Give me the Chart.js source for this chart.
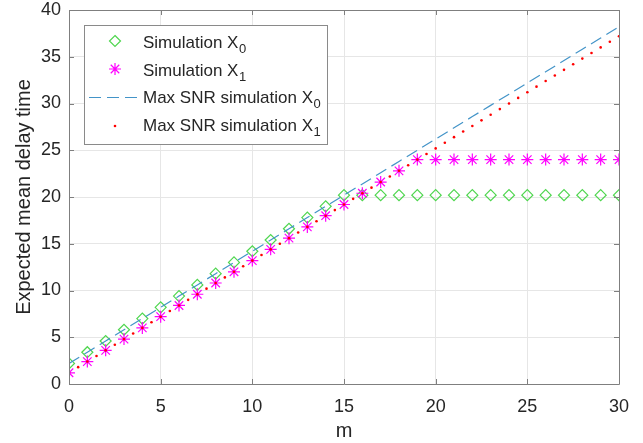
<!DOCTYPE html>
<html>
<head>
<meta charset="utf-8">
<script src="https://cdn.jsdelivr.net/npm/chart.js@4/dist/chart.umd.min.js"></script>
<style>
html,body{margin:0;padding:0;background:#fff;}
#c{display:block;}
</style>
</head>
<body>
<canvas id="c" width="643" height="443"></canvas>
<script>
// ---- data ----
const mValues = [0,1,2,3,4,5,6,7,8,9,10,11,12,13,14,15,16,17,18,19,20,21,22,23,24,25,26,27,28,29,30];
const simX0 = [2.2,3.4,4.6,5.8,7.0,8.2,9.4,10.6,11.8,13.0,14.2,15.4,16.6,17.8,19.0,20.2,20.2,20.2,20.2,20.2,20.2,20.2,20.2,20.2,20.2,20.2,20.2,20.2,20.2,20.2,20.2];
const simX1 = [1.2,2.4,3.6,4.8,6.0,7.2,8.4,9.6,10.8,12.0,13.2,14.4,15.6,16.8,18.0,19.2,20.4,21.6,22.8,24.0,24.0,24.0,24.0,24.0,24.0,24.0,24.0,24.0,24.0,24.0,24.0];
const maxSnrX0 = [2.2,3.4,4.6,5.8,7.0,8.2,9.4,10.6,11.8,13.0,14.2,15.4,16.6,17.8,19.0,20.2,21.4,22.6,23.8,25.0,26.2,27.4,28.6,29.8,31.0,32.2,33.4,34.6,35.8,37.0,38.2];
const mHalfValues = [0,0.5,1,1.5,2,2.5,3,3.5,4,4.5,5,5.5,6,6.5,7,7.5,8,8.5,9,9.5,10,10.5,11,11.5,12,12.5,13,13.5,14,14.5,15,15.5,16,16.5,17,17.5,18,18.5,19,19.5,20,20.5,21,21.5,22,22.5,23,23.5,24,24.5,25,25.5,26,26.5,27,27.5,28,28.5,29,29.5,30];
const maxSnrX1 = [1.2,1.8,2.4,3.0,3.6,4.2,4.8,5.4,6.0,6.6,7.2,7.8,8.4,9.0,9.6,10.2,10.8,11.4,12.0,12.6,13.2,13.8,14.4,15.0,15.6,16.2,16.8,17.4,18.0,18.6,19.2,19.8,20.4,21.0,21.6,22.2,22.8,23.4,24.0,24.6,25.2,25.8,26.4,27.0,27.6,28.2,28.8,29.4,30.0,30.6,31.2,31.8,32.4,33.0,33.6,34.2,34.8,35.4,36.0,36.6,37.2];
const xTitle = "m";
const yTitle = "Expected mean delay time";
const legendLabels = [["Simulation X","0"],["Simulation X","1"],["Max SNR simulation X","0"],["Max SNR simulation X","1"]];

const pts = (xs, ys) => xs.map((x, i) => ({x: x, y: ys[i]}));

const GREEN = '#4fd64f', MAGENTA = '#ff00ff', BLUE = '#4394c8', RED = '#ff0000';
const AXIS = '#7f7f7f', GRID = '#e6e6e6', TXT = '#262626';
const FONT = "'Liberation Sans', Arial, Helvetica, sans-serif";

const boxPlugin = {
  id: 'matlabBox',
  afterDatasetsDraw(chart) {
    const {ctx, chartArea: a, scales} = chart;
    ctx.save();
    ctx.strokeStyle = AXIS;
    ctx.lineWidth = 1;
    ctx.beginPath();
    ctx.rect(Math.round(a.left) + 0.5, Math.round(a.top) + 0.5, Math.round(a.right - a.left), Math.round(a.bottom - a.top));
    ctx.stroke();
    const tl = 5;
    ctx.beginPath();
    scales.x.ticks.forEach(t => {
      const px = Math.round(scales.x.getPixelForValue(t.value)) + 0.5;
      ctx.moveTo(px, a.bottom); ctx.lineTo(px, a.bottom - tl);
      ctx.moveTo(px, a.top); ctx.lineTo(px, a.top + tl);
    });
    scales.y.ticks.forEach(t => {
      const py = Math.round(scales.y.getPixelForValue(t.value)) + 0.5;
      ctx.moveTo(a.left, py); ctx.lineTo(a.left + tl, py);
      ctx.moveTo(a.right, py); ctx.lineTo(a.right - tl, py);
    });
    ctx.stroke();
    ctx.restore();
  },
  afterDraw(chart) {
    const ctx = chart.ctx;
    ctx.save();
    // legend box
    const L = 84, T = 25, R = 327, B = 144;
    ctx.fillStyle = '#ffffff';
    ctx.fillRect(L, T, R - L, B - T);
    ctx.strokeStyle = '#8a8a8a';
    ctx.lineWidth = 1;
    ctx.strokeRect(L + 0.5, T + 0.5, R - L, B - T);
    const baselines = [48, 75.5, 103, 130.5];
    const mx = 115;
    // diamond
    let y = baselines[0] - 7;
    ctx.strokeStyle = GREEN; ctx.lineWidth = 1.2;
    ctx.beginPath();
    ctx.moveTo(mx, y - 5.5); ctx.lineTo(mx + 5.5, y); ctx.lineTo(mx, y + 5.5); ctx.lineTo(mx - 5.5, y); ctx.closePath();
    ctx.stroke();
    // star
    y = baselines[1] - 6.5;
    ctx.strokeStyle = MAGENTA;
    ctx.beginPath();
    const r = 6;
    ctx.moveTo(mx - r, y); ctx.lineTo(mx + r, y);
    ctx.moveTo(mx, y - r); ctx.lineTo(mx, y + r);
    const d = r * Math.SQRT1_2;
    ctx.moveTo(mx - d, y - d); ctx.lineTo(mx + d, y + d);
    ctx.moveTo(mx - d, y + d); ctx.lineTo(mx + d, y - d);
    ctx.stroke();
    // dashed line
    y = baselines[2] - 5.5;
    ctx.strokeStyle = BLUE; ctx.lineWidth = 1.2;
    ctx.setLineDash([12, 6]);
    ctx.beginPath(); ctx.moveTo(89, y); ctx.lineTo(138, y); ctx.stroke();
    ctx.setLineDash([]);
    // dot
    y = baselines[3] - 4.5;
    ctx.fillStyle = RED;
    ctx.beginPath(); ctx.arc(mx, y, 1.3, 0, Math.PI * 2); ctx.fill();
    // texts
    ctx.fillStyle = TXT;
    ctx.textBaseline = 'alphabetic';
    ctx.textAlign = 'left';
    legendLabels.forEach((lab, i) => {
      ctx.font = '17px ' + FONT;
      ctx.fillText(lab[0], 143, baselines[i]);
      const w = ctx.measureText(lab[0]).width;
      ctx.font = '13px ' + FONT;
      ctx.fillText(lab[1], 143 + w + 0.5, baselines[i] + 5);
    });
    ctx.restore();
  }
};

new Chart(document.getElementById('c'), {
  type: 'scatter',
  data: {
    datasets: [
      {
        label: 'Simulation X0',
        data: pts(mValues, simX0),
        pointStyle: 'rectRot',
        pointRadius: 5.5,
        pointBorderColor: GREEN,
        pointBackgroundColor: 'rgba(0,0,0,0)',
        pointBorderWidth: 1.2,
        showLine: false,
        order: 4
      },
      {
        label: 'Simulation X1',
        data: pts(mValues, simX1),
        pointStyle: 'star',
        pointRadius: 6,
        pointBorderColor: MAGENTA,
        pointBackgroundColor: MAGENTA,
        pointBorderWidth: 1.2,
        showLine: false,
        order: 3
      },
      {
        label: 'Max SNR simulation X0',
        data: pts(mValues, maxSnrX0),
        showLine: true,
        borderColor: BLUE,
        borderWidth: 1.2,
        borderDash: [12, 6],
        pointRadius: 0,
        fill: false,
        order: 2
      },
      {
        label: 'Max SNR simulation X1',
        data: pts(mHalfValues, maxSnrX1),
        pointStyle: 'circle',
        pointRadius: 1.3,
        pointBorderWidth: 0,
        pointBackgroundColor: RED,
        pointBorderColor: RED,
        showLine: false,
        order: 1
      }
    ]
  },
  options: {
    responsive: false,
    animation: false,
    events: [],
    layout: {padding: {top: 10, right: 24, left: 0, bottom: 0}},
    plugins: {legend: {display: false}, tooltip: {enabled: false}, title: {display: false}},
    scales: {
      x: {
        type: 'linear', min: 0, max: 30,
        ticks: {stepSize: 5, color: TXT, font: {family: FONT, size: 18}, padding: 12, maxRotation: 0},
        grid: {color: GRID, lineWidth: 1, drawTicks: false},
        border: {display: false},
        title: {display: true, text: xTitle, color: TXT, font: {family: FONT, size: 20}, padding: {top: 0, bottom: 0}},
        afterFit(s) { s.height = 59; s.paddingLeft = 0; s.paddingRight = 0; }
      },
      y: {
        type: 'linear', min: 0, max: 40,
        ticks: {stepSize: 5, color: TXT, font: {family: FONT, size: 18}, padding: 8},
        grid: {color: GRID, lineWidth: 1, drawTicks: false},
        border: {display: false},
        title: {display: true, text: yTitle, color: TXT, font: {family: FONT, size: 20}, padding: {top: 12, bottom: 0}},
        afterFit(s) { s.width = 69; s.paddingTop = 0; s.paddingBottom = 0; }
      }
    }
  },
  plugins: [boxPlugin]
});
</script>
</body>
</html>
